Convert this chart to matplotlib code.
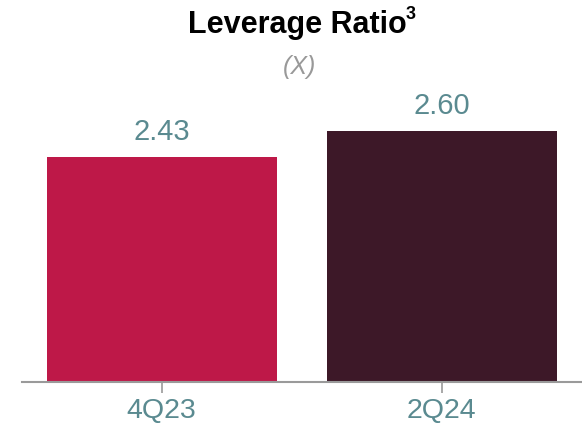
import matplotlib.pyplot as plt

periods = ["4Q23", "2Q24"]
leverage = [2.43, 2.60]
bar_colors = ["#BE1848", "#3D1828"]

label_color = "#5A8A90"
axis_color = "#9A9A9A"

plt.rcParams["font.family"] = ["Liberation Sans", "DejaVu Sans"]

fig = plt.figure(figsize=(5.82, 4.31), dpi=100)
ax = fig.add_axes([0.037, 1 - 383 / 431, 0.963, (383 - 90) / 431])

x = range(len(periods))
bars = ax.bar(x, leverage, width=0.82, color=bar_colors, bottom=0)

for xi, v in zip(x, leverage):
    ax.annotate(f"{v:.2f}", (xi, v), xytext=(0, 9), textcoords="offset points",
                ha="center", va="bottom", fontsize=21, color=label_color)

ax.set_xlim(-0.5, 1.5)
ax.set_ylim(0.96, 2.875)
ax.set_xticks(list(x))
ax.set_xticklabels(periods, fontsize=20.5, color=label_color)
ax.tick_params(axis="x", length=8, width=1.2, color=axis_color, pad=3)
ax.set_yticks([])

for side in ["top", "right", "left"]:
    ax.spines[side].set_visible(False)
ax.spines["bottom"].set_color(axis_color)
ax.spines["bottom"].set_linewidth(1.5)

fig.text(0.511, 1 - 33 / 431, "Leverage Ratio", ha="center", va="baseline",
         fontsize=22, fontweight="bold", color="black")
fig.text(0.697, 1 - 19 / 431, "3", ha="left", va="baseline",
         fontsize=13, fontweight="bold", color="black")
fig.text(0.515, 1 - 74 / 431, "(X)", ha="center", va="baseline",
         fontsize=18, fontstyle="italic", color="#999999")

fig.savefig("out.png", dpi=100)
